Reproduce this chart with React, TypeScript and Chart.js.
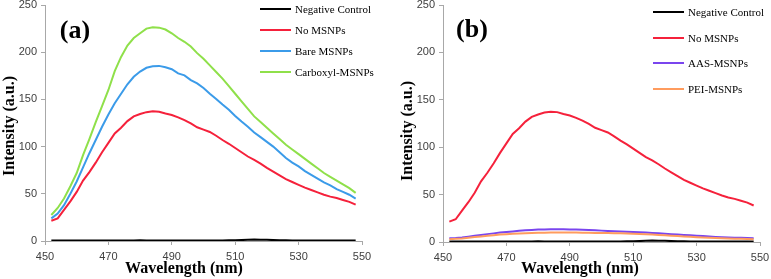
import React, { useEffect, useRef } from "react";
import { Chart, registerables } from "chart.js";

Chart.register(...registerables);

const wavelengths = [
  452, 454, 456, 458, 460, 462, 464, 466, 468, 470, 472, 474, 476, 478, 480, 482, 484,
  486, 488, 490, 492, 494, 496, 498, 500, 502, 504, 506, 508, 510, 512, 514, 516, 518,
  520, 522, 524, 526, 528, 530, 532, 534, 536, 538, 540, 542, 544, 546, 548,
];

const negativeControl = [
  0.5, 0.5, 0.4, 0.5, 0.5, 0.6, 0.5, 0.5, 0.6, 0.6, 0.6, 0.5, 0.6, 0.6, 0.7, 0.6, 0.6,
  0.6, 0.6, 0.6, 0.5, 0.6, 0.6, 0.5, 0.6, 0.6, 0.6, 0.6, 0.7, 0.8, 1.0, 1.3, 1.5, 1.4,
  1.2, 1.0, 0.8, 0.7, 0.6, 0.6, 0.5, 0.5, 0.5, 0.5, 0.5, 0.5, 0.4, 0.5, 0.5,
];

const noMsnps = [
  21.5, 24, 33, 42, 52, 64, 73, 83, 94, 104, 114, 120, 127, 132, 134.5, 136.5, 137.5,
  137, 135, 133.5, 131, 128, 124.5, 120.5, 118, 115.5, 111.5, 107, 103, 98.5, 94, 89.5, 86, 82,
  77.5, 73.5, 69.5, 65.5, 62.5, 59.5, 56.5, 54, 51.5, 49, 47, 45.5, 43.5, 41.5, 38.5,
];

const bareMsnps = [
  24, 29, 38, 50, 63, 78, 93, 107, 121, 134, 146, 156, 166, 174, 179.5, 183.5, 185,
  185.5, 184, 182, 177.5, 175.5, 170.5, 167, 162, 156, 150.5, 144.5, 139, 132.5, 126.5, 121, 115, 110,
  105, 100, 94, 88, 83, 79, 74, 70, 66, 62, 59, 55, 52, 49, 45,
];

const carboxylMsnps = [
  27.5, 35, 45, 58, 72, 91, 108, 126, 143, 160, 180, 195, 207, 215, 220, 225, 226.5,
  226, 224, 220, 215, 211, 206, 199, 193, 186, 179, 172, 164, 156, 148, 140, 132, 126,
  120, 114, 108, 102, 97, 92, 87, 82, 77, 72, 68, 64, 60, 56, 51,
];

const aasMsnps = [
  4, 4.2, 4.8, 5.6, 6.5, 7.4, 8.3, 9.1, 9.9, 10.6, 11.2, 11.8, 12.3, 12.7, 13.1, 13.3, 13.5,
  13.5, 13.4, 13.3, 13.1, 12.9, 12.7, 12.3, 12.0, 11.7, 11.4, 11.1, 10.8, 10.5, 10.2, 9.9, 9.6, 9.2,
  8.8, 8.3, 7.9, 7.4, 7.0, 6.6, 6.2, 5.8, 5.4, 5.1, 4.8, 4.6, 4.4, 4.2, 4.0,
];

const peiMsnps = [
  3, 3.3, 3.8, 4.5, 5.2, 5.9, 6.6, 7.2, 7.8, 8.3, 8.7, 9.0, 9.3, 9.5, 9.7, 9.8, 9.9,
  10.0, 10.0, 10.0, 9.9, 9.8, 9.7, 9.6, 9.5, 9.4, 9.3, 9.2, 9.0, 8.8, 8.5, 8.2, 7.9, 7.5,
  7.1, 6.7, 6.3, 5.9, 5.5, 5.1, 4.8, 4.5, 4.2, 3.9, 3.7, 3.5, 3.3, 3.1, 3.0,
];

const xTicks = [450, 470, 490, 510, 530, 550];
const yTicks = [0, 50, 100, 150, 200, 250];

const seriesA = [
  { label: "Negative Control", values: negativeControl, color: "#000000" },
  { label: "No MSNPs", values: noMsnps, color: "#f5213b" },
  { label: "Bare MSNPs", values: bareMsnps, color: "#3b9be9" },
  { label: "Carboxyl-MSNPs", values: carboxylMsnps, color: "#8fe04a" },
];

const seriesB = [
  { label: "Negative Control", values: negativeControl, color: "#000000" },
  { label: "No MSNPs", values: noMsnps, color: "#f5213b" },
  { label: "AAS-MSNPs", values: aasMsnps, color: "#7a45ee" },
  { label: "PEI-MSNPs", values: peiMsnps, color: "#ff9c5e" },
];

type Series = { label: string; values: number[]; color: string };

const AXIS = "#a8a8a8";
const TICK_FONT = { family: "'Liberation Sans', Arial, sans-serif", size: 11 };

function Panel(props: {
  series: Series[];
  left: number;
  width: number;
  yWidth: number;
  padRight: number;
  xHeight: number;
}) {
  const ref = useRef<HTMLCanvasElement | null>(null);
  useEffect(() => {
    if (!ref.current) return;
    const datasets = props.series
      .slice()
      .reverse()
      .map((s) => ({
        label: s.label,
        data: wavelengths.map((w, i) => ({ x: w, y: s.values[i] })),
        borderColor: s.color,
        backgroundColor: s.color,
        borderWidth: 2,
        pointRadius: 0,
        fill: false,
        tension: 0,
      }));
    const chart = new Chart(ref.current, {
      type: "line",
      data: { datasets },
      options: {
        animation: false,
        responsive: false,
        maintainAspectRatio: false,
        layout: { padding: { top: 5, right: props.padRight, left: 0, bottom: 0 } },
        plugins: { legend: { display: false }, tooltip: { enabled: false } },
        scales: {
          x: {
            type: "linear",
            min: xTicks[0],
            max: xTicks[xTicks.length - 1],
            afterBuildTicks: (s: any) => {
              s.ticks = xTicks.map((v) => ({ value: v }));
            },
            ticks: { padding: 5, color: "#404040", font: TICK_FONT, maxRotation: 0 },
            grid: { drawOnChartArea: false, tickLength: 4, color: AXIS },
            border: { color: AXIS, width: 1 },
            afterFit: (s: any) => {
              s.height = props.xHeight;
              s.paddingLeft = 0;
              s.paddingRight = 0;
            },
          },
          y: {
            type: "linear",
            min: yTicks[0],
            max: yTicks[yTicks.length - 1],
            afterBuildTicks: (s: any) => {
              s.ticks = yTicks.map((v) => ({ value: v }));
            },
            ticks: { padding: 4, color: "#404040", font: TICK_FONT },
            grid: { drawOnChartArea: false, tickLength: 4, color: AXIS },
            border: { color: AXIS, width: 1 },
            afterFit: (s: any) => {
              s.width = props.yWidth;
              s.paddingTop = 0;
              s.paddingBottom = 0;
            },
          },
        },
      },
    });
    return () => chart.destroy();
  }, []);
  return (
    <canvas
      ref={ref}
      width={props.width}
      height={279}
      style={{ position: "absolute", left: props.left, top: 0, width: props.width, height: 279 }}
    />
  );
}

const serif = "'Liberation Serif', 'Times New Roman', serif";

function Legend(props: { series: Series[]; lineLeft: number; top: number; gap: number }) {
  return (
    <>
      {props.series.map((s, i) => (
        <div
          key={s.label}
          style={{
            position: "absolute",
            left: props.lineLeft,
            top: props.top + i * props.gap - 7,
            height: 14,
            display: "flex",
            alignItems: "center",
            fontFamily: serif,
            fontSize: 11,
            color: "#000",
            whiteSpace: "nowrap",
          }}
        >
          <span style={{ display: "inline-block", width: 31, height: 2, background: s.color, marginRight: 4 }} />
          <span>{s.label}</span>
        </div>
      ))}
    </>
  );
}

function Text(props: { x: number; y: number; size: number; rotate?: boolean; children: string }) {
  return (
    <div
      style={{
        position: "absolute",
        left: props.x,
        top: props.y,
        transform: `translate(-50%, -50%)${props.rotate ? " rotate(-90deg)" : ""}`,
        fontFamily: serif,
        fontWeight: "bold",
        fontSize: props.size,
        lineHeight: 1,
        whiteSpace: "nowrap",
        color: "#000",
      }}
    >
      {props.children}
    </div>
  );
}

export default function App() {
  return (
    <div style={{ position: "absolute", left: 0, top: 0, width: 771, height: 279, background: "#fff", overflow: "hidden" }}>
      <Panel series={seriesA} left={0} width={385} yWidth={45} padRight={23} xHeight={38} />
      <Panel series={seriesB} left={385} width={386} yWidth={58} padRight={11} xHeight={37} />
      <Text x={75} y={30} size={26}>(a)</Text>
      <Text x={472} y={29} size={26}>(b)</Text>
      <Text x={9} y={126} size={16} rotate>Intensity (a.u.)</Text>
      <Text x={407} y={131} size={16} rotate>Intensity (a.u.)</Text>
      <Text x={184} y={268} size={16}>Wavelength (nm)</Text>
      <Text x={580} y={268} size={16}>Wavelength (nm)</Text>
      <Legend series={seriesA} lineLeft={260} top={9} gap={21} />
      <Legend series={seriesB} lineLeft={653} top={12} gap={25.5} />
    </div>
  );
}
